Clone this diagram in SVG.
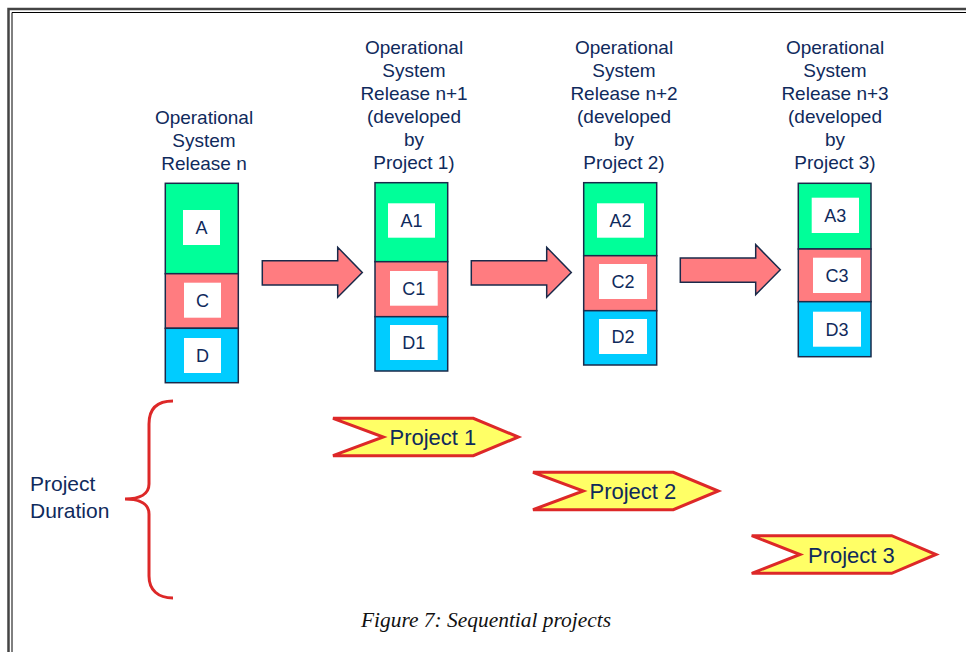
<svg xmlns="http://www.w3.org/2000/svg" width="966" height="652" viewBox="0 0 966 652">
<style>
.lbl{font-family:"Liberation Sans",Arial,sans-serif;font-size:19px;fill:#0f2a5c;text-anchor:middle}
.cell{font-family:"Liberation Sans",Arial,sans-serif;font-size:18px;fill:#0f2a5c;text-anchor:middle}
.proj{font-family:"Liberation Sans",Arial,sans-serif;font-size:22px;fill:#0f2a5c}
.g{fill:#00ff99;stroke:#1a2a4a;stroke-width:1.5}
.r{fill:#ff7c80;stroke:#1a2a4a;stroke-width:1.5}
.b{fill:#00ccff;stroke:#1a2a4a;stroke-width:1.5}
.w{fill:#ffffff}
.arr{fill:#ff7c80;stroke:#1a2a4a;stroke-width:1.5}
.chev{fill:#ffff66;stroke:#dd2828;stroke-width:3;stroke-linejoin:miter}
.cap{font-family:"Liberation Serif","Times New Roman",serif;font-style:italic;font-size:20px;fill:#111}
</style>
<rect x="0" y="0" width="966" height="652" fill="#fff"/>
<!-- page border -->
<path d="M8.5,660 V9 H980" fill="none" stroke="#444" stroke-width="2.5"/>
<path d="M12,660 V12.5 H980" fill="none" stroke="#000" stroke-width="1"/>

<g id="release-n">
<text class="lbl" x="204" y="124">Operational</text>
<text class="lbl" x="204" y="147">System</text>
<text class="lbl" x="204" y="170">Release n</text>
<rect class="g" x="165.3" y="183.3" width="73" height="90.4"/>
<rect class="r" x="165.3" y="273.7" width="73" height="54.6"/>
<rect class="b" x="165.3" y="328.3" width="73" height="54.4"/>
<rect class="w" x="183" y="210" width="37" height="35"/>
<rect class="w" x="184" y="282.7" width="37" height="35"/>
<rect class="w" x="184" y="338" width="37" height="35"/>
<text class="cell" x="201.5" y="234">A</text>
<text class="cell" x="202.5" y="306.5">C</text>
<text class="cell" x="202.5" y="361.5">D</text>
</g>

<g id="release-n1">
<text class="lbl" x="414" y="54">Operational</text>
<text class="lbl" x="414" y="77">System</text>
<text class="lbl" x="414" y="100">Release n+1</text>
<text class="lbl" x="414" y="123">(developed</text>
<text class="lbl" x="414" y="146">by</text>
<text class="lbl" x="414" y="169">Project 1)</text>
<rect class="g" x="375" y="182.7" width="72.7" height="79"/>
<rect class="r" x="375" y="261.7" width="72.7" height="55"/>
<rect class="b" x="375" y="316.7" width="72.7" height="54.3"/>
<rect class="w" x="388" y="203.3" width="47" height="34.4"/>
<rect class="w" x="390" y="271" width="47.7" height="34.7"/>
<rect class="w" x="390" y="325" width="47.7" height="35"/>
<text class="cell" x="411.5" y="227">A1</text>
<text class="cell" x="413.8" y="294.5">C1</text>
<text class="cell" x="413.8" y="348.5">D1</text>
</g>

<g id="release-n2">
<text class="lbl" x="624" y="54">Operational</text>
<text class="lbl" x="624" y="77">System</text>
<text class="lbl" x="624" y="100">Release n+2</text>
<text class="lbl" x="624" y="123">(developed</text>
<text class="lbl" x="624" y="146">by</text>
<text class="lbl" x="624" y="169">Project 2)</text>
<rect class="g" x="583.7" y="182.7" width="73" height="73"/>
<rect class="r" x="583.7" y="255.7" width="73" height="55"/>
<rect class="b" x="583.7" y="310.7" width="73" height="54.3"/>
<rect class="w" x="597" y="203.3" width="47" height="34.4"/>
<rect class="w" x="599" y="264" width="48" height="35"/>
<rect class="w" x="599" y="319" width="48" height="35"/>
<text class="cell" x="620.5" y="227">A2</text>
<text class="cell" x="623" y="287.5">C2</text>
<text class="cell" x="623" y="342.5">D2</text>
</g>

<g id="release-n3">
<text class="lbl" x="835" y="54">Operational</text>
<text class="lbl" x="835" y="77">System</text>
<text class="lbl" x="835" y="100">Release n+3</text>
<text class="lbl" x="835" y="123">(developed</text>
<text class="lbl" x="835" y="146">by</text>
<text class="lbl" x="835" y="169">Project 3)</text>
<rect class="g" x="798.3" y="183.3" width="72.7" height="65.7"/>
<rect class="r" x="798.3" y="249" width="72.7" height="52.7"/>
<rect class="b" x="798.3" y="301.7" width="72.7" height="55"/>
<rect class="w" x="811.7" y="197.7" width="47.3" height="35.3"/>
<rect class="w" x="813" y="257.7" width="48" height="35.3"/>
<rect class="w" x="813" y="311.7" width="48" height="35"/>
<text class="cell" x="835.3" y="221.5">A3</text>
<text class="cell" x="837" y="281.5">C3</text>
<text class="cell" x="837" y="335.5">D3</text>
</g>

<g id="connectors">
<path class="arr" d="M262.3,260.7 H337.7 V247.3 L362.3,272.5 L337.7,297.3 V285 H262.3 Z"/>
<path class="arr" d="M471.3,260.7 H546.7 V247.3 L571.3,272.5 L546.7,297.3 V285 H471.3 Z"/>
<path class="arr" d="M680.3,258 H755.7 V244.6 L780.3,269.8 L755.7,294.6 V282.3 H680.3 Z"/>
</g>

<g id="project-1">
<polygon class="chev" points="333,418.3 473.3,418.3 518.3,437 473.3,455.7 333,455.7 383.3,437"/>
<text class="proj" x="389.5" y="445">Project 1</text>
</g>
<g id="project-2">
<polygon class="chev" points="533,472.3 673.3,472.3 718.3,491 673.3,509.7 533,509.7 583.3,491"/>
<text class="proj" x="589.5" y="499">Project 2</text>
</g>
<g id="project-3">
<polygon class="chev" points="751.7,535.7 891.7,535.7 936,554.5 891.7,573.3 751.7,573.3 800,554.5"/>
<text class="proj" x="808" y="562.5">Project 3</text>
</g>

<g id="project-duration">
<path d="M173,401 C158,401 149,408 149,424 L149,484 C149,494 140,499 125,499 C140,499 149,504 149,514 L149,576 C149,590 158,598 173,598" fill="none" stroke="#dd2828" stroke-width="3"/>
<text class="proj" x="30" y="491" style="font-size:21px">Project</text>
<text class="proj" x="30" y="518" style="font-size:21px">Duration</text>
</g>

<text class="cap" x="361" y="627" textLength="250" lengthAdjust="spacingAndGlyphs">Figure 7: Sequential projects</text>
</svg>
